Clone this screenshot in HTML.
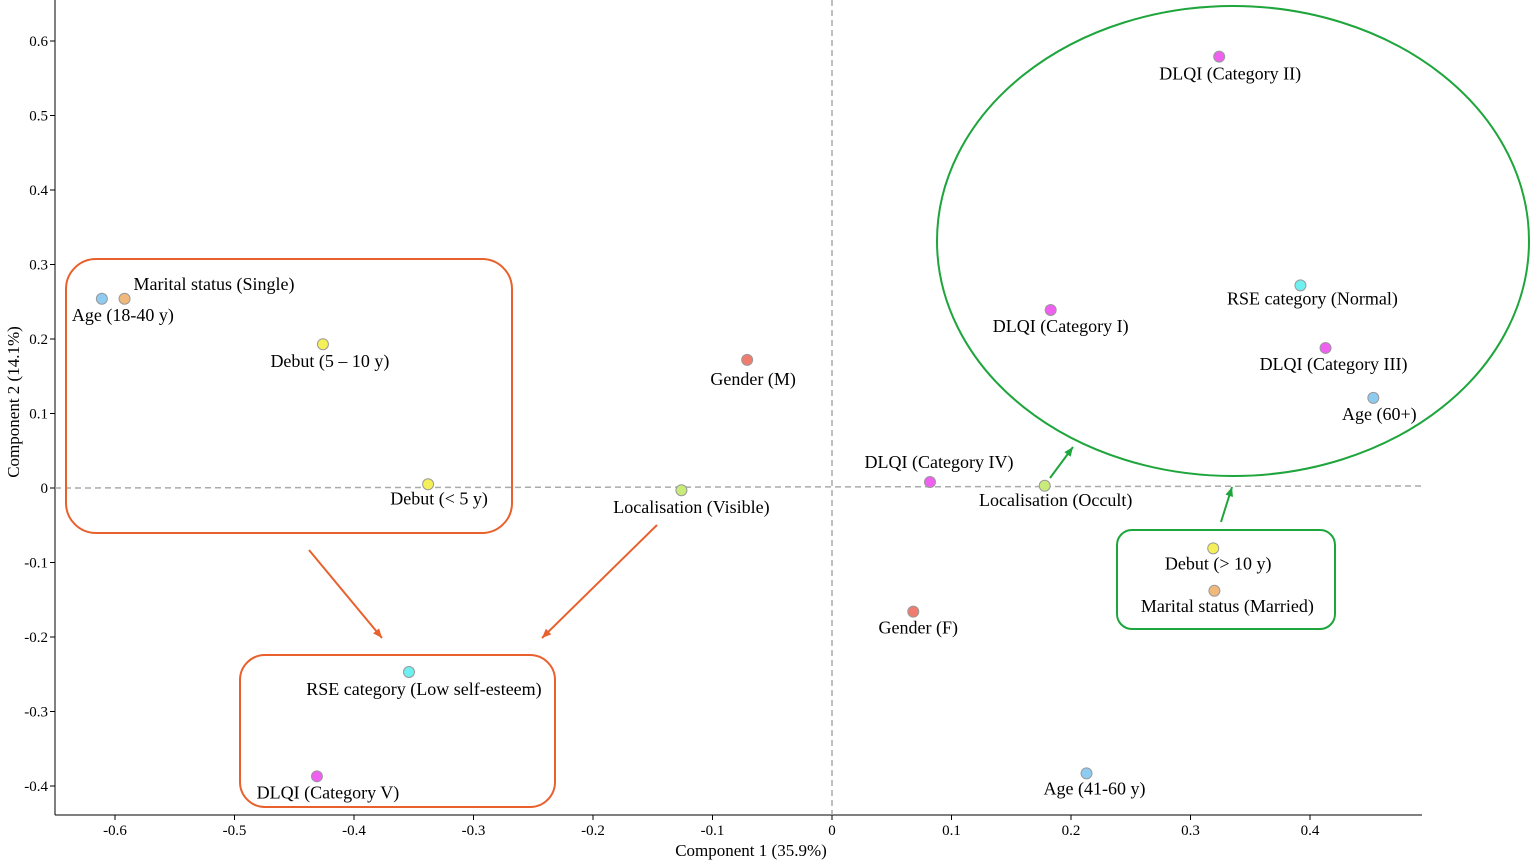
<!DOCTYPE html>
<html><head><meta charset="utf-8"><style>
html,body{margin:0;padding:0;background:#fff;}
svg{display:block;font-family:"Liberation Serif",serif;}
</style></head><body>
<svg id="chart" width="1535" height="865" xmlns="http://www.w3.org/2000/svg"></svg>
<script>
const labels = ["Age (18-40 y)","Marital status (Single)","Debut (5 \u2013 10 y)","Debut (< 5 y)","Gender (M)","Localisation (Visible)","RSE category (Low self-esteem)","DLQI (Category V)","DLQI (Category IV)","Localisation (Occult)","Gender (F)","Age (41-60 y)","Debut (> 10 y)","Marital status (Married)","DLQI (Category II)","DLQI (Category I)","RSE category (Normal)","DLQI (Category III)","Age (60+)"];
const comp1 = [-0.611,-0.592,-0.426,-0.338,-0.071,-0.126,-0.354,-0.431,0.082,0.178,0.068,0.213,0.319,0.320,0.324,0.183,0.392,0.413,0.453];
const comp2 = [0.254,0.254,0.193,0.005,0.172,-0.003,-0.247,-0.387,0.008,0.003,-0.166,-0.383,-0.081,-0.138,0.579,0.239,0.272,0.188,0.121];
const groups = ["age","marital","debut","debut","gender","loc","rse","dlqi","dlqi","loc","gender","age","debut","marital","dlqi","dlqi","rse","dlqi","age"];
const xTicks = [-0.6,-0.5,-0.4,-0.3,-0.2,-0.1,0,0.1,0.2,0.3,0.4];
const yTicks = [-0.4,-0.3,-0.2,-0.1,0,0.1,0.2,0.3,0.4,0.5,0.6];

const colors = {age:"#8ecbf0",marital:"#f0b87a",debut:"#f5f05a",gender:"#f07c70",loc:"#c8eb7a",rse:"#6ef0f0",dlqi:"#f060f0"};
const labelOff = [[21,16,"m"],[9,-15,"s"],[7,17,"m"],[11,14,"m"],[6,19,"m"],[10,17,"m"],[15,17,"m"],[11,16,"m"],[9,-20,"m"],[11,14,"m"],[5,16,"m"],[8,15,"m"],[5,15,"m"],[13,15,"m"],[11,17,"m"],[10,16,"m"],[12,13,"m"],[8,16,"m"],[6,16,"m"]];
const L=55,R=1422,T=0,B=815;
const x = v => 832 + v*1195;
const y = v => 488 - v*745;
const NS="http://www.w3.org/2000/svg";
const svg=document.getElementById('chart');
function mk(tag,attrs,parent){const e=document.createElementNS(NS,tag);for(const k in attrs)e.setAttribute(k,attrs[k]);(parent||svg).appendChild(e);return e;}

let ax=mk('line',{x1:L,y1:B,x2:R,y2:B,stroke:'#000','stroke-width':1});


let ay=mk('line',{x1:L,y1:T,x2:L,y2:B,stroke:'#000','stroke-width':1});


xTicks.forEach(t=>{
  mk('line',{x1:x(t),y1:B,x2:x(t),y2:B+5,stroke:'#000'});
  const tx=mk('text',{x:x(t),y:B+20,'font-size':15,'text-anchor':'middle'});
  tx.textContent=(t===0?'0':String(t));
  
  
});
yTicks.forEach(t=>{
  mk('line',{x1:L-5,y1:y(t),x2:L,y2:y(t),stroke:'#000'});
  const tx=mk('text',{x:L-7,y:y(t)+5,'font-size':15,'text-anchor':'end'});
  tx.textContent=(t===0?'0':String(t));
  
  
});
let xt=mk('text',{x:751,y:856,'font-size':17,'text-anchor':'middle'});xt.textContent='Component 1 (35.9%)';


let yt=mk('text',{x:19,y:402,'font-size':17,'text-anchor':'middle',transform:'rotate(-90 19 402)'});yt.textContent='Component 2 (14.1%)';



let zh=mk('line',{x1:L,y1:y(0),x2:R,y2:y(0)-2,stroke:'#aaa','stroke-dasharray':'6,4','stroke-width':1.5});


let zv=mk('line',{x1:x(0),y1:T,x2:x(0),y2:B,stroke:'#aaa','stroke-dasharray':'6,4','stroke-width':1.5});



const OR="#e8612c",GR="#1ea53c";
let a1=mk('rect',{x:66,y:259,width:446,height:274,rx:30,fill:'none',stroke:OR,'stroke-width':2});


let a2=mk('rect',{x:240,y:655,width:315,height:152,rx:25,fill:'none',stroke:OR,'stroke-width':2});


let a3=mk('ellipse',{cx:1233,cy:241,rx:296,ry:235,fill:'none',stroke:GR,'stroke-width':2});


let a4=mk('rect',{x:1117,y:530,width:218,height:99,rx:15,fill:'none',stroke:GR,'stroke-width':2});


function arrow(x1,y1,x2,y2,c,name){
  const g=mk('g',{});
  
  
  mk('line',{x1,y1,x2,y2,stroke:c,'stroke-width':2},g);
  const a=Math.atan2(y2-y1,x2-x1),s=10;
  const p=[[x2,y2],[x2-s*Math.cos(a-0.4),y2-s*Math.sin(a-0.4)],[x2-s*Math.cos(a+0.4),y2-s*Math.sin(a+0.4)]];
  mk('polygon',{points:p.map(q=>q.join(',')).join(' '),fill:c},g);
}
arrow(309,550,382,638,OR,'orange-arrow-left');
arrow(657,525,542,638,OR,'orange-arrow-right');
arrow(1050,478,1073,447,GR,'green-arrow-left');
arrow(1221,522,1232,487,GR,'green-arrow-right');

labels.forEach((lab,i)=>{
  const px=x(comp1[i]),py=y(comp2[i]);
  const c=mk('circle',{cx:px,cy:py,r:5.5,fill:colors[groups[i]],stroke:'#999','stroke-width':1});
  
  
  const o=labelOff[i];
  const t=mk('text',{x:px+o[0],y:py+o[1]+6,'font-size':18,'text-anchor':o[2]==='s'?'start':'middle'});
  t.textContent=lab;
  
  
});
</script>
</body></html>
